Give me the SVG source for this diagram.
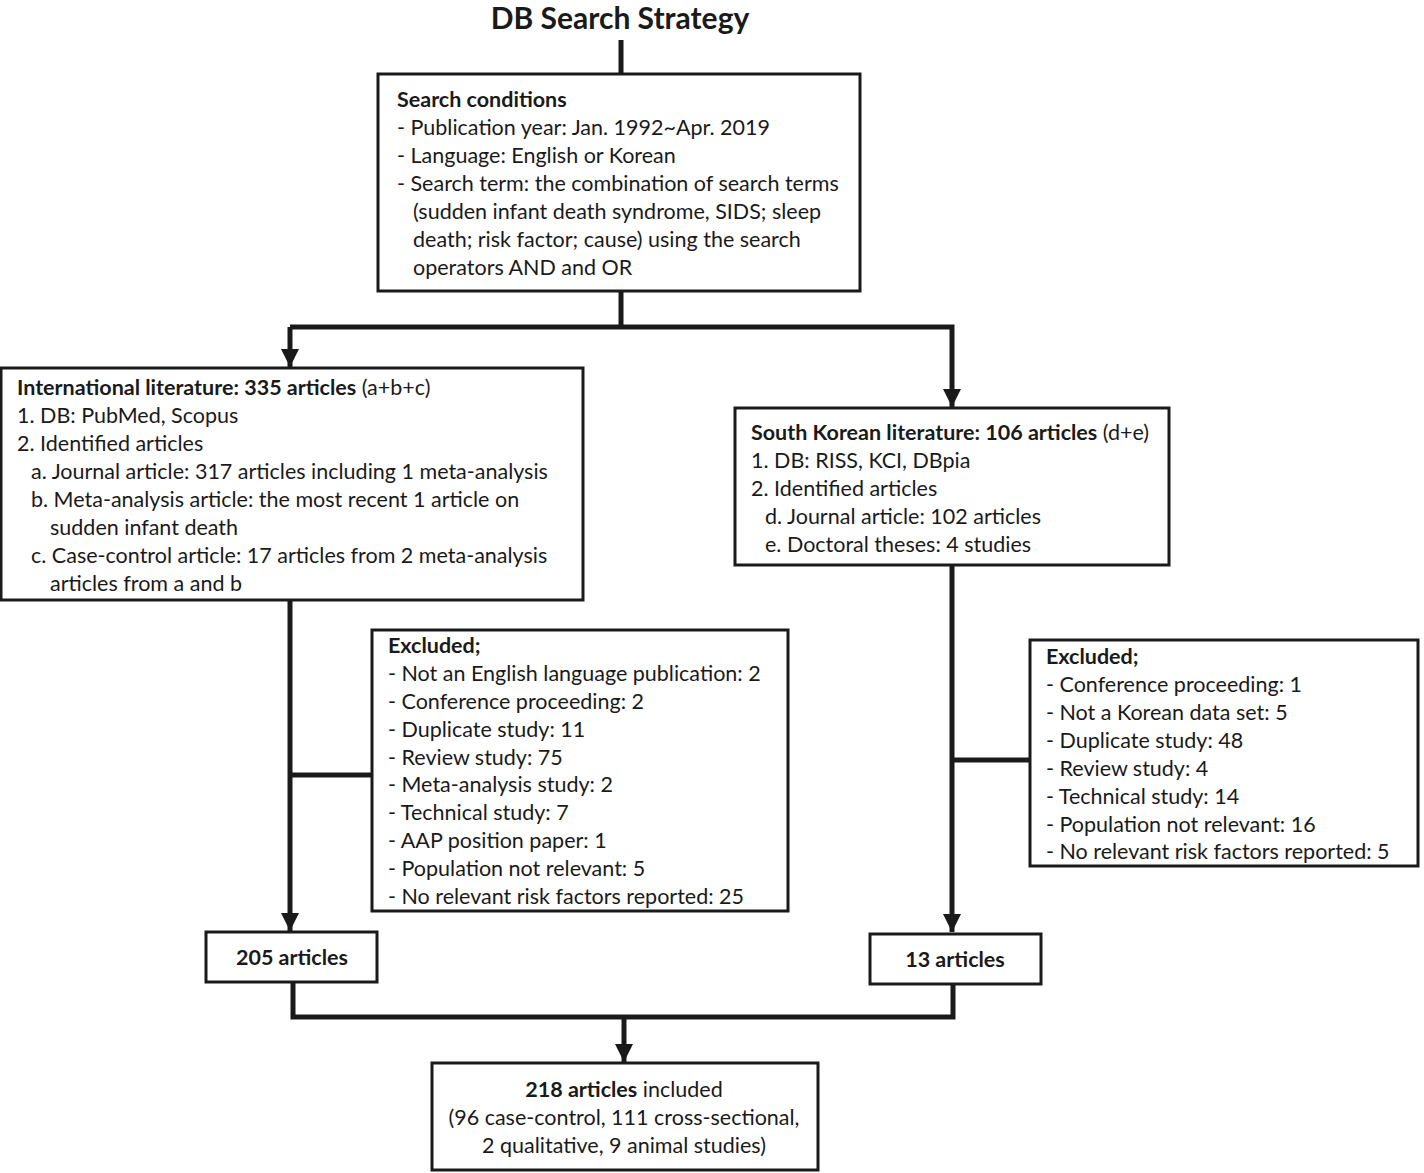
<svg xmlns="http://www.w3.org/2000/svg" width="1424" height="1173" viewBox="0 0 1424 1173">
<style>
text{font-family:"Lato","Liberation Sans",sans-serif;font-size:21.5px;fill:#1a1a1a}
.b{font-weight:bold}
.t{font-size:30px;font-weight:bold}
.box{fill:#fff;stroke:#1a1a1a;stroke-width:3}
.c{fill:none;stroke:#1a1a1a;stroke-width:5}
.m{text-anchor:middle}
</style>
<defs>
<marker id="ah" viewBox="0 0 10 10" refX="10" refY="5" markerWidth="3.6" markerHeight="3.6" orient="auto" markerUnits="strokeWidth">
<path d="M0,0 L10,5 L0,10 z" fill="#1a1a1a"/>
</marker>
</defs>
<g id="connectors">
<line class="c" x1="621" y1="40" x2="621" y2="73"/>
<line class="c" x1="621" y1="291" x2="621" y2="327"/>
<polyline class="c" points="290,327 952,327 952,407" marker-end="url(#ah)"/>
<line class="c" x1="290" y1="327" x2="290" y2="367" marker-end="url(#ah)"/>
<line class="c" x1="290" y1="600" x2="290" y2="931" marker-end="url(#ah)"/>
<line class="c" x1="290" y1="775" x2="372" y2="775"/>
<line class="c" x1="952" y1="565" x2="952" y2="932" marker-end="url(#ah)"/>
<line class="c" x1="952" y1="760" x2="1030" y2="760"/>
<polyline class="c" points="293,982 293,1017 953,1017 953,984"/>
<line class="c" x1="624" y1="1017" x2="624" y2="1062" marker-end="url(#ah)"/>
</g>
<g id="title">
<text class="t m" x="620" y="29">DB Search Strategy</text>
</g>
<g id="search">
<rect class="box" x="378" y="74" width="482" height="217"/>
<text x="397" y="107" class="b">Search conditions</text>
<text x="397" y="135">- Publication year: Jan. 1992~Apr. 2019</text>
<text x="397" y="163">- Language: English or Korean</text>
<text x="397" y="191">- Search term: the combination of search terms</text>
<text x="413" y="219">(sudden infant death syndrome, SIDS; sleep</text>
<text x="413" y="247">death; risk factor; cause) using the search</text>
<text x="413" y="275">operators AND and OR</text>
</g>
<g id="intl">
<rect class="box" x="1" y="368" width="582" height="232"/>
<text x="17" y="395"><tspan class="b">International literature: 335 articles</tspan> (a+b+c)</text>
<text x="17" y="423">1. DB: PubMed, Scopus</text>
<text x="17" y="451">2. Identified articles</text>
<text x="31" y="479">a. Journal article: 317 articles including 1 meta-analysis</text>
<text x="31" y="507">b. Meta-analysis article: the most recent 1 article on</text>
<text x="50" y="535">sudden infant death</text>
<text x="31" y="563">c. Case-control article: 17 articles from 2 meta-analysis</text>
<text x="50" y="591">articles from a and b</text>
</g>
<g id="korean">
<rect class="box" x="735" y="408" width="434" height="157"/>
<text x="751" y="440"><tspan class="b">South Korean literature: 106 articles</tspan> (d+e)</text>
<text x="751" y="468">1. DB: RISS, KCI, DBpia</text>
<text x="751" y="496">2. Identified articles</text>
<text x="765" y="524">d. Journal article: 102 articles</text>
<text x="765" y="552">e. Doctoral theses: 4 studies</text>
</g>
<g id="excl-intl">
<rect class="box" x="372" y="630" width="416" height="281"/>
<text x="388" y="653" class="b">Excluded;</text>
<text x="388" y="681">- Not an English language publication: 2</text>
<text x="388" y="709">- Conference proceeding: 2</text>
<text x="388" y="737">- Duplicate study: 11</text>
<text x="388" y="765">- Review study: 75</text>
<text x="388" y="792">- Meta-analysis study: 2</text>
<text x="388" y="820">- Technical study: 7</text>
<text x="388" y="848">- AAP position paper: 1</text>
<text x="388" y="876">- Population not relevant: 5</text>
<text x="388" y="904">- No relevant risk factors reported: 25</text>
</g>
<g id="excl-kor">
<rect class="box" x="1030" y="640" width="388" height="226"/>
<text x="1046" y="664" class="b">Excluded;</text>
<text x="1046" y="692">- Conference proceeding: 1</text>
<text x="1046" y="720">- Not a Korean data set: 5</text>
<text x="1046" y="748">- Duplicate study: 48</text>
<text x="1046" y="776">- Review study: 4</text>
<text x="1046" y="804">- Technical study: 14</text>
<text x="1046" y="832">- Population not relevant: 16</text>
<text x="1046" y="859">- No relevant risk factors reported: 5</text>
</g>
<g id="n205">
<rect class="box" x="206" y="932" width="171" height="50"/>
<text class="b m" x="292" y="965">205 articles</text>
</g>
<g id="n13">
<rect class="box" x="870" y="934" width="171" height="50"/>
<text class="b m" x="955" y="967">13 articles</text>
</g>
<g id="n218">
<rect class="box" x="432" y="1063" width="386" height="107"/>
<text class="m" x="624" y="1097"><tspan class="b">218 articles</tspan> included</text>
<text class="m" x="624" y="1125">(96 case-control, 111 cross-sectional,</text>
<text class="m" x="624" y="1153">2 qualitative, 9 animal studies)</text>
</g>
</svg>
